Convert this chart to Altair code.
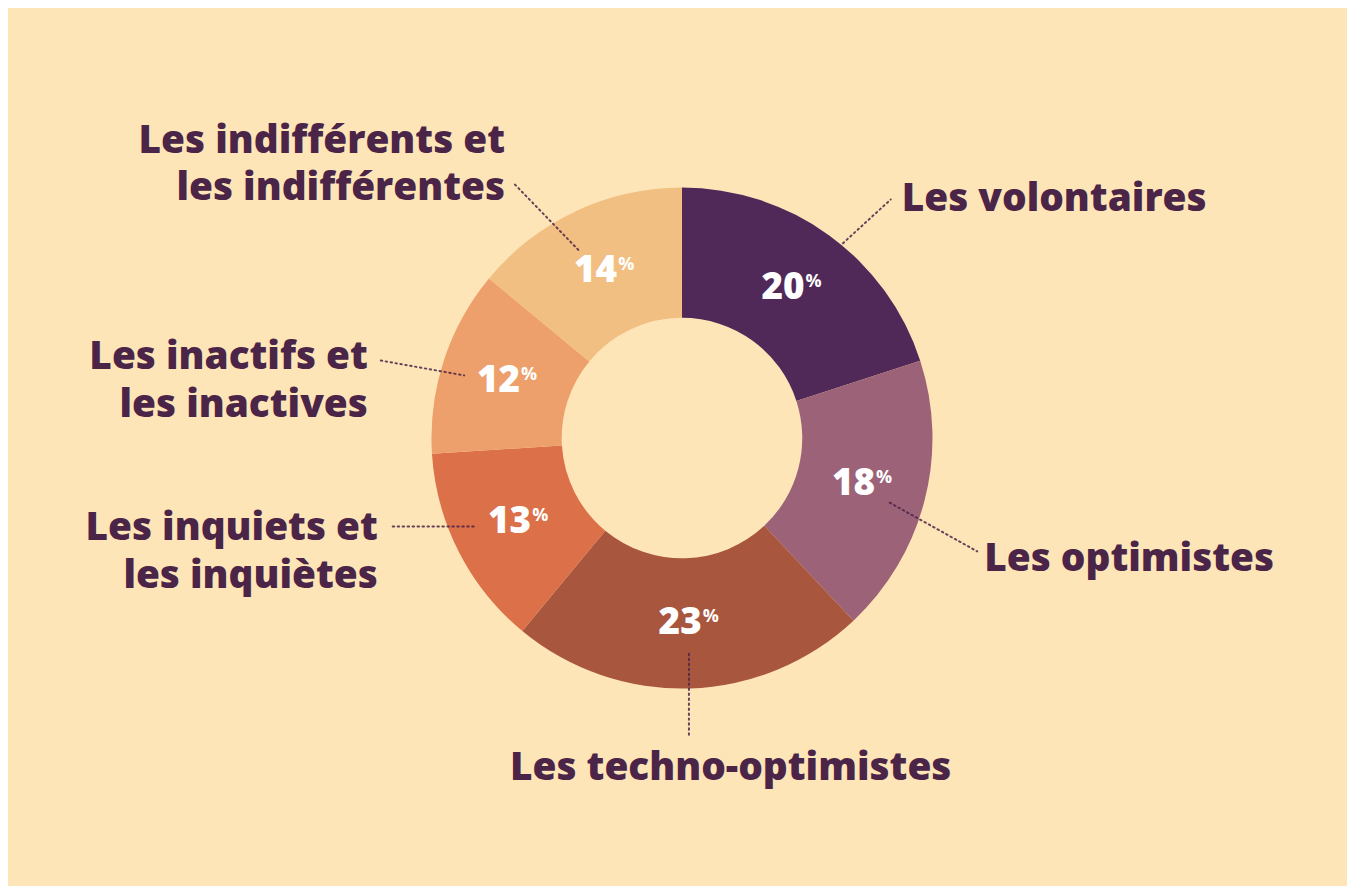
import altair as alt
import pandas as pd

# --- data ---
categories = [
    "Les volontaires",
    "Les optimistes",
    "Les techno-optimistes",
    "Les inquiets et les inquiètes",
    "Les inactifs et les inactives",
    "Les indifférents et les indifférentes",
]
values = [20, 18, 23, 13, 12, 14]
colors = ["#502958", "#9c6277", "#a9563f", "#dc7049", "#eda06b", "#f2bf82"]

# label texts (as displayed)
label_texts = [
    "Les volontaires",
    "Les optimistes",
    "Les techno-optimistes",
    "Les inquiets et\nles inquiètes",
    "Les inactifs et\nles inactives",
    "Les indifférents et\nles indifférentes",
]

# annotation layout (chart pixel space)
label_x = [899, 982, 727, 372, 362, 500]
label_y = [190, 552, 762, 521, 349, 131]
label_align = ["left", "left", "center", "right", "right", "right"]
lead_x1 = [840, 887, 685, 387, 375, 510]
lead_y1 = [234, 495, 647, 519, 352, 175]
lead_x2 = [888, 975, 685, 472, 459, 575]
lead_y2 = [190, 544, 729, 519, 367, 242]

W, H = 1347, 878
CX, CY = 678, 430
BG = "#fee5b8"
TXT = "#4b2548"
FONT = "Open Sans"

df = pd.DataFrame({
    "cat": categories,
    "value": values,
    "idx": list(range(len(values))),
    "num": [str(v) for v in values],
    "pct": ["%"] * len(values),
})

ann = pd.DataFrame({
    "label": label_texts,
    "x": label_x,
    "y": label_y,
    "align": label_align,
    "x1": lead_x1,
    "y1": lead_y1,
    "x2": lead_x2,
    "y2": lead_y2,
})

theta = alt.Theta("value:Q", stack=True)
order = alt.Order("idx:Q")

base = alt.Chart(df)

arcs = base.mark_arc(outerRadius=252, innerRadius=121, stroke=None).encode(
    theta=theta,
    order=order,
    color=alt.Color("cat:N", scale=alt.Scale(domain=categories, range=colors), legend=None),
    x=alt.value(CX),
    y=alt.value(CY),
)

nums = base.mark_text(
    radius=186, font=FONT, fontSize=37, fontWeight=800, color="white",
    align="right", baseline="middle", dx=14,
).encode(theta=theta, order=order, text="num:N", x=alt.value(CX), y=alt.value(CY))

pcts = base.mark_text(
    radius=186, font=FONT, fontSize=18, fontWeight=700, color="white",
    align="left", baseline="middle", dx=15, dy=-6,
).encode(theta=theta, order=order, text="pct:N", x=alt.value(CX), y=alt.value(CY))

xs = alt.Scale(domain=[0, W], nice=False, zero=False)
ys = alt.Scale(domain=[H, 0], nice=False, zero=False)

ab = alt.Chart(ann)
leaders = ab.mark_rule(
    color=TXT, strokeWidth=2, strokeDash=[1.5, 3.5], strokeCap="round", opacity=0.85
).encode(
    x=alt.X("x1:Q", scale=xs, axis=None),
    y=alt.Y("y1:Q", scale=ys, axis=None),
    x2="x2:Q",
    y2="y2:Q",
)

def lab(al):
    return ab.transform_filter(alt.datum.align == al).mark_text(
        font=FONT, fontSize=39, fontWeight=800, color=TXT,
        align=al, baseline="middle", lineBreak="\n", lineHeight=48,
    ).encode(
        x=alt.X("x:Q", scale=xs, axis=None),
        y=alt.Y("y:Q", scale=ys, axis=None),
        text="label:N",
    )

chart = alt.layer(arcs, nums, pcts, leaders, lab("left"), lab("center"), lab("right")).properties(
    width=W, height=H,
    autosize=alt.AutoSizeParams(type="fit", contains="padding"),
    padding=0,
    background=BG,
).configure_view(stroke=None)

chart.save("out.html", embed_options={"renderer": "svg", "actions": False})
